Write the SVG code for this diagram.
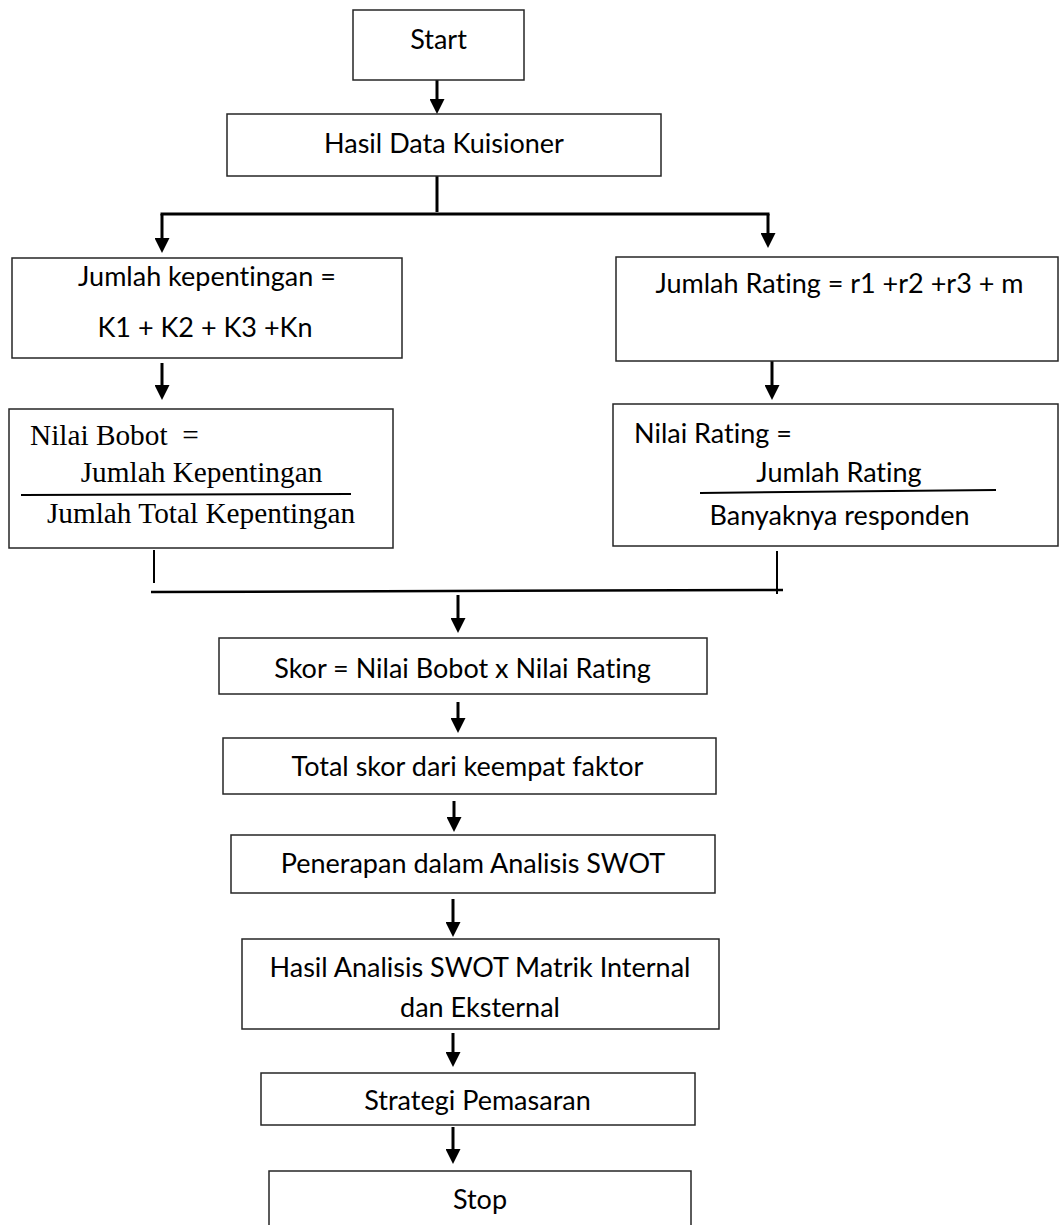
<svg xmlns="http://www.w3.org/2000/svg" width="1059" height="1225" viewBox="0 0 1059 1225">
<style>
.box{fill:#fff;stroke:#262626;stroke-width:1.5}
.t{font-family:Lato,"Liberation Sans",sans-serif;font-size:27px;fill:#000;text-anchor:middle;font-variant-ligatures:none}
.s{font-family:"Liberation Serif","Times New Roman",serif;font-size:29.3px;fill:#000;text-anchor:middle}
.st{text-anchor:start;white-space:pre}
.c{stroke:#000;stroke-width:3;fill:none}
.a{marker-end:url(#arr)}
.thin{stroke:#000;stroke-width:2;fill:none}
</style>
<defs>
<marker id="arr" markerUnits="userSpaceOnUse" markerWidth="15" markerHeight="15" refX="4" refY="7.5" orient="auto">
<path d="M0,0 L15,7.5 L0,15 z" fill="#000"/>
</marker>
</defs>
<rect width="1059" height="1225" fill="#fff"/>
<g id="connectors">
<line class="c a" x1="437" y1="80" x2="437" y2="103"/>
<line class="c" x1="437" y1="176" x2="437" y2="212"/>
<line class="c" x1="160.5" y1="214" x2="769.5" y2="214"/>
<line class="c a" x1="162" y1="214" x2="162" y2="242"/>
<line class="c a" x1="768" y1="214" x2="768" y2="237"/>
<line class="c a" x1="162" y1="363" x2="162" y2="389"/>
<line class="c a" x1="772" y1="361" x2="772" y2="389"/>
<line class="thin" x1="154" y1="550" x2="154" y2="583"/>
<line class="thin" x1="777" y1="551" x2="777" y2="594"/>
<line class="c" x1="151" y1="592" x2="783" y2="590" style="stroke-width:2.5"/>
<line class="c a" x1="458" y1="595" x2="458" y2="622"/>
<line class="c a" x1="458" y1="702" x2="458" y2="722"/>
<line class="c a" x1="454" y1="801" x2="454" y2="821"/>
<line class="c a" x1="453" y1="899" x2="453" y2="926"/>
<line class="c a" x1="453" y1="1033" x2="453" y2="1056"/>
<line class="c a" x1="453" y1="1127" x2="453" y2="1153"/>
</g>
<g id="start">
<rect class="box" x="353" y="10" width="171" height="70"/>
<text class="t" x="438.5" y="49">Start</text>
</g>
<g id="hasil-data">
<rect class="box" x="227" y="114" width="434" height="62"/>
<text class="t" x="444" y="153">Hasil Data Kuisioner</text>
</g>
<g id="jumlah-kepentingan">
<rect class="box" x="12" y="258" width="390" height="100"/>
<text class="t" x="207" y="286">Jumlah kepentingan =</text>
<text class="t" x="205" y="337">K1 + K2 + K3 +Kn</text>
</g>
<g id="jumlah-rating">
<rect class="box" x="616" y="257" width="442" height="104"/>
<text class="t" x="839.5" y="293">Jumlah Rating = r1 +r2 +r3 + m</text>
</g>
<g id="nilai-bobot">
<rect class="box" x="9" y="409" width="384" height="139"/>
<text class="s st" x="30" y="445">Nilai Bobot  =</text>
<text class="s" x="201.5" y="482">Jumlah Kepentingan</text>
<line class="thin" x1="21" y1="495" x2="351" y2="494"/>
<text class="s" x="201" y="523">Jumlah Total Kepentingan</text>
</g>
<g id="nilai-rating">
<rect class="box" x="613" y="404" width="445" height="142"/>
<text class="t st" x="634" y="443">Nilai Rating =</text>
<text class="t" x="839" y="482">Jumlah Rating</text>
<line class="thin" x1="700" y1="493" x2="996" y2="490"/>
<text class="t" x="839.5" y="525">Banyaknya responden</text>
</g>
<g id="skor">
<rect class="box" x="219" y="638" width="488" height="56"/>
<text class="t" x="462.5" y="678">Skor = Nilai Bobot x Nilai Rating</text>
</g>
<g id="total-skor">
<rect class="box" x="223" y="738" width="493" height="56"/>
<text class="t" x="467.5" y="776">Total skor dari keempat faktor</text>
</g>
<g id="penerapan">
<rect class="box" x="231" y="835" width="484" height="58"/>
<text class="t" x="473" y="873">Penerapan dalam Analisis SWOT</text>
</g>
<g id="hasil-analisis">
<rect class="box" x="242" y="939" width="477" height="90"/>
<text class="t" x="480" y="977">Hasil Analisis SWOT Matrik Internal</text>
<text class="t" x="480" y="1017">dan Eksternal</text>
</g>
<g id="strategi">
<rect class="box" x="261" y="1073" width="434" height="52"/>
<text class="t" x="477.5" y="1110">Strategi Pemasaran</text>
</g>
<g id="stop">
<rect class="box" x="269" y="1171" width="422" height="70"/>
<text class="t" x="480" y="1209">Stop</text>
</g>
</svg>
